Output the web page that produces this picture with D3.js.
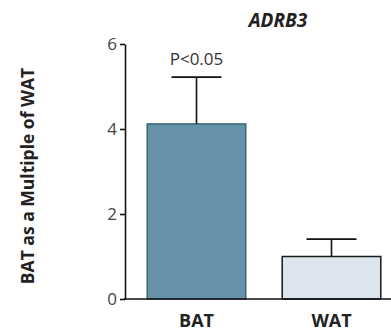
<!DOCTYPE html>
<html>
<head>
<meta charset="utf-8">
<script src="https://cdn.jsdelivr.net/npm/d3@7"></script>
<style>
  body { margin: 0; background: #fff; }
  svg { display: block; }
  text { font-family: "Open Sans", "Noto Sans", sans-serif; fill: #222; }
</style>
</head>
<body>
<svg id="chart" width="391" height="334"></svg>
<script>
// data
var groups = ['BAT', 'WAT']
var means = [4.12, 1.0]
var errors = [1.1, 0.41]
var fills = ['#6592a8', '#dde6ee']
var yTicks = [0, 2, 4, 6]
var title = 'ADRB3'
var pLabel = 'P<0.05'
var yLabel = 'BAT as a Multiple of WAT'

var svg = d3.select('#chart')

var x = d3.scaleBand().domain(groups).range([129, 399]).paddingInner(0.27).paddingOuter(0.135)
var y = d3.scaleLinear().domain([0, 6]).range([299, 44])

// bars
svg.selectAll('rect.bar').data(groups).enter().append('rect')
  .attr('class', 'bar')
  .attr('x', function(d){ return x(d) })
  .attr('y', function(d, i){ return y(means[i]) })
  .attr('width', x.bandwidth())
  .attr('height', function(d, i){ return y(0) - y(means[i]) })
  .attr('fill', function(d, i){ return fills[i] })
  .attr('stroke', function(d, i){ return i == 0 ? '#3f6579' : '#1a1a1a' })
  .attr('stroke-width', 1.5)

// error bars (upper only)
var capW = 50
groups.forEach(function(g, i){
  var cx = x(g) + x.bandwidth() / 2
  svg.append('line')
    .attr('x1', cx).attr('x2', cx)
    .attr('y1', y(means[i])).attr('y2', y(means[i] + errors[i]))
    .attr('stroke', '#111').attr('stroke-width', 1.6)
  svg.append('line')
    .attr('x1', cx - capW / 2).attr('x2', cx + capW / 2)
    .attr('y1', y(means[i] + errors[i])).attr('y2', y(means[i] + errors[i]))
    .attr('stroke', '#111').attr('stroke-width', 1.6)
})

// y axis
var yAxis = svg.append('g').attr('transform', 'translate(125,0)')
  .call(d3.axisLeft(y).tickValues(yTicks).tickSize(5).tickSizeOuter(0).tickFormat(d3.format('d')))
yAxis.select('.domain').attr('stroke', '#111').attr('stroke-width', 1.6)
yAxis.selectAll('.tick line').attr('stroke', '#111').attr('stroke-width', 1.6)
yAxis.selectAll('.tick text').attr('x', -8).style('font-size', '17px').style('fill', '#444')
  .style('font-family', '"Open Sans", sans-serif')

// x baseline
svg.append('line')
  .attr('x1', 124).attr('x2', 391)
  .attr('y1', y(0)).attr('y2', y(0))
  .attr('stroke', '#111').attr('stroke-width', 1.6)

// x labels
svg.selectAll('text.xlab').data(groups).enter().append('text')
  .attr('class', 'xlab')
  .attr('x', function(d){ return x(d) + x.bandwidth() / 2 })
  .attr('y', 327)
  .attr('text-anchor', 'middle')
  .style('font-size', '18px').style('font-weight', 'bold')
  .text(function(d){ return d })

// p value
svg.append('text')
  .attr('x', x('BAT') + x.bandwidth() / 2)
  .attr('y', 65)
  .attr('text-anchor', 'middle')
  .style('font-size', '17px').style('fill', '#333')
  .text(pLabel)

// title
svg.append('text')
  .attr('x', 278).attr('y', 27)
  .attr('text-anchor', 'middle')
  .style('font-size', '19px').style('font-weight', 'bold').style('font-style', 'italic')
  .text(title)

// y label
svg.append('text')
  .attr('transform', 'translate(34,176) rotate(-90)')
  .attr('text-anchor', 'middle')
  .style('font-size', '17.5px').style('font-weight', 'bold')
  .text(yLabel)
</script>
</body>
</html>
